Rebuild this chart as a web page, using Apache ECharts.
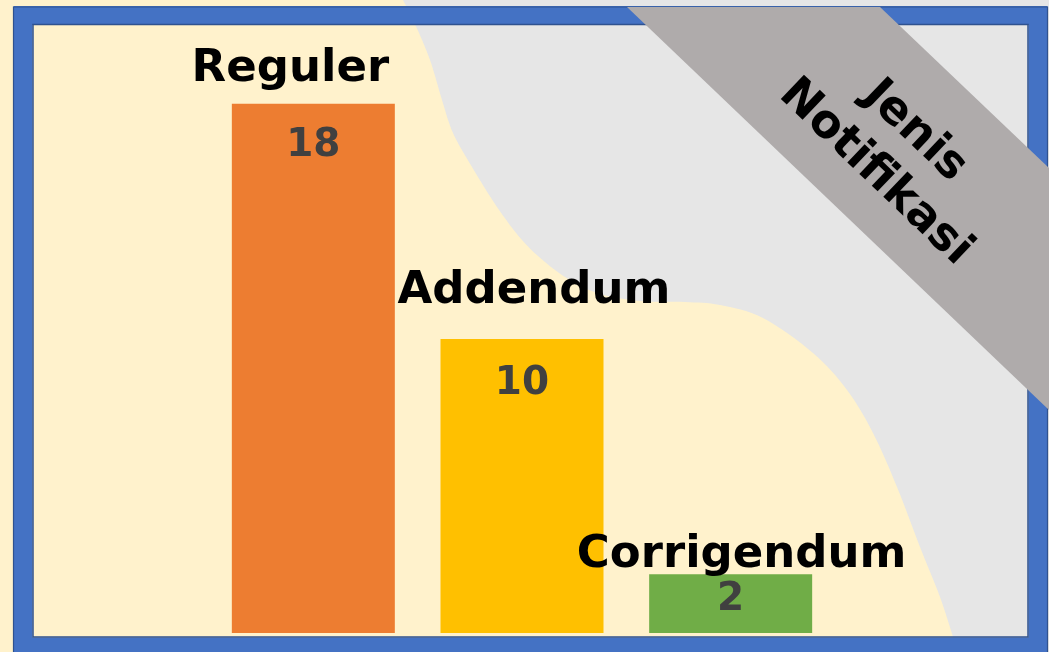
<!DOCTYPE html>
<html>
<head>
<meta charset="utf-8">
<script src="https://cdn.jsdelivr.net/npm/echarts@6/dist/echarts.min.js"></script>
<style>
  html, body { margin: 0; padding: 0; background: #FFF2CC; }
  #chart { width: 1049px; height: 652px; }
</style>
</head>
<body>
<div id="chart"></div>
<script>
// ---- data ----
const categories = ['Reguler', 'Addendum', 'Corrigendum'];
const values = [18, 10, 2];
const barColors = ['#ED7D31', '#FFC000', '#70AD47'];
const bannerTitle = 'Jenis\nNotifikasi';

// per-bar label placement tweaks (pixels)
const nameOffsets = [[-23, -34], [12, -48], [11, -19]];
const valueOffsets = [22, 25, 6];

const chart = echarts.init(document.getElementById('chart'), null, { renderer: 'canvas' });

// decorative background curve (boundary between cream and grey areas)
const curvePts = [
  [953, 637], [940, 597], [920, 547], [897, 487], [873, 433], [847, 390], [813, 353],
  [763, 318], [720, 305], [685, 302], [640, 301], [600, 294], [570, 280], [545, 262],
  [522, 240], [497, 207], [472, 167], [453, 133], [442, 100], [430, 60], [415, 24], [403, 0]
];
function smoothPoints(pts, steps) {
  const out = [pts[0]];
  for (let i = 0; i < pts.length - 1; i++) {
    const p0 = pts[Math.max(i - 1, 0)], p1 = pts[i], p2 = pts[i + 1], p3 = pts[Math.min(i + 2, pts.length - 1)];
    for (let s = 1; s <= steps; s++) {
      const t = s / steps, t2 = t * t, t3 = t2 * t;
      const f = (a, b, c, d) => 0.5 * ((2 * b) + (-a + c) * t + (2 * a - 5 * b + 4 * c - d) * t2 + (-a + 3 * b - 3 * c + d) * t3);
      out.push([f(p0[0], p1[0], p2[0], p3[0]), f(p0[1], p1[1], p2[1], p3[1])]);
    }
  }
  return out;
}
const grayPoints = [[1049, 0], [1049, 652], [958, 652]].concat(smoothPoints(curvePts, 8));

const option = {
  backgroundColor: '#FFF2CC',
  animation: false,
  grid: { left: 209, right: 214, top: 45, bottom: 19, containLabel: false },
  xAxis: {
    type: 'category',
    data: categories,
    axisLine: { show: false },
    axisTick: { show: false },
    axisLabel: { show: false },
    splitLine: { show: false }
  },
  yAxis: {
    type: 'value',
    min: 0,
    max: 20,
    show: false,
    splitLine: { show: false }
  },
  graphic: [
    {
      type: 'polygon',
      z: -10,
      shape: { points: grayPoints },
      style: { fill: '#E6E6E6' },
      silent: true
    },
    // blue frame
    {
      type: 'rect',
      z: 10,
      shape: { x: 23, y: 15.5, width: 1015, height: 631.5 },
      style: { fill: null, stroke: '#4472C4', lineWidth: 19 },
      silent: true
    },
    {
      type: 'rect',
      z: 11,
      shape: { x: 13.5, y: 7, width: 1034, height: 660 },
      style: { fill: null, stroke: '#2F528F', lineWidth: 1.2 },
      silent: true
    },
    {
      type: 'rect',
      z: 11,
      shape: { x: 33, y: 24.5, width: 995, height: 612.5 },
      style: { fill: null, stroke: '#2F528F', lineWidth: 1.5 },
      silent: true
    },
    // banner
    {
      type: 'polygon',
      z: 20,
      shape: { points: [[627, 7], [880, 7], [1049, 168], [1049, 410]] },
      style: { fill: '#AFABAB' },
      silent: true
    },
    {
      type: 'text',
      z: 21,
      x: 895,
      y: 152,
      rotation: -43.65 * Math.PI / 180,
      style: {
        text: bannerTitle,
        x: 0,
        y: 0,
        textAlign: 'center',
        textVerticalAlign: 'middle',
        fontFamily: 'DejaVu Sans',
        fontWeight: 'bold',
        fontSize: 46,
        lineHeight: 57,
        fill: '#000000'
      },
      silent: true
    }
  ],
  series: [
    {
      type: 'bar',
      barWidth: 163,
      data: values.map((v, i) => ({
        value: v,
        itemStyle: { color: barColors[i] },
        label: { offset: [0, valueOffsets[i]] }
      })),
      label: {
        show: true,
        position: 'insideTop',
        distance: 0,
        fontFamily: 'DejaVu Sans',
        fontWeight: 'bold',
        fontSize: 39,
        lineHeight: 40,
        color: '#404040'
      }
    },
    {
      type: 'scatter',
      symbolSize: 0,
      itemStyle: { opacity: 1 },
      data: values.map((v, i) => ({
        value: v,
        name: categories[i],
        label: { offset: nameOffsets[i] }
      })),
      label: {
        show: true,
        position: 'inside',
        formatter: '{b}',
        fontFamily: 'DejaVu Sans',
        fontWeight: 'bold',
        fontSize: 45,
        lineHeight: 50,
        color: '#000000',
        opacity: 1
      },
      z: 5
    }
  ]
};

chart.setOption(option);
</script>
</body>
</html>
